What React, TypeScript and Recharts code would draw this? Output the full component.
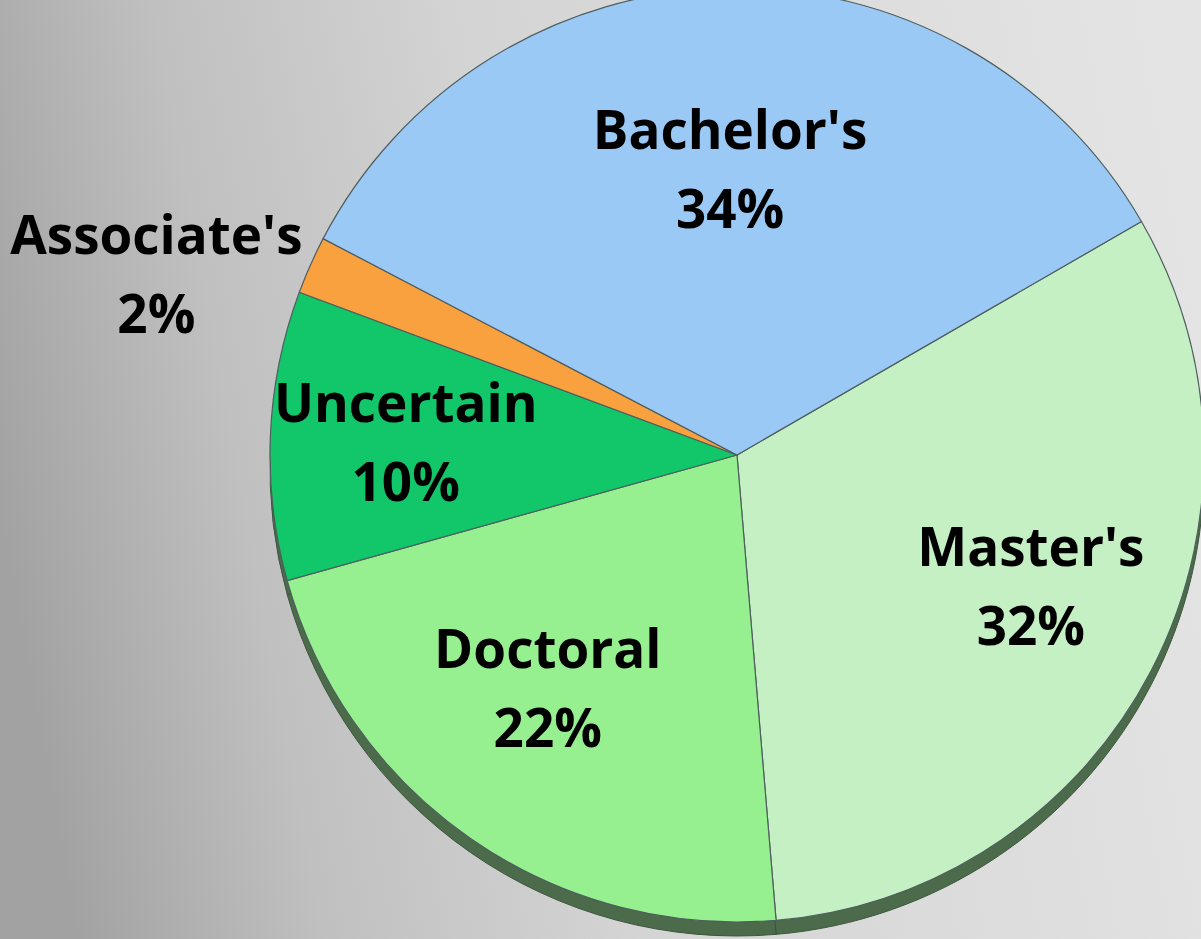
import { Cell, Pie, PieChart } from "recharts";

const degrees = ["Master's", "Doctoral", "Uncertain", "Associate's", "Bachelor's"];
const shares = [32, 22, 10, 2, 34];
const sliceColors = ["#c4f0c3", "#97f08f", "#12c76a", "#f9a03f", "#9bc9f5"];

const data = degrees.map((name, i) => ({ name, value: shares[i] }));

const W = 1201;
const H = 939;
const CX = 737;
const CY = 455;
const R = 467;
const START = 30;
const RAD = Math.PI / 180;

const labelFont = { fontFamily: "'Open Sans', sans-serif", fontWeight: 700, fontSize: 53, fill: "#000" };

function renderLabel(props: any) {
  const { cx, cy, midAngle, outerRadius, name, value } = props;
  const cos = Math.cos(-midAngle * RAD);
  const sin = Math.sin(-midAngle * RAD);
  let x: number;
  let y: number;
  if (value < 5) {
    // small slices get their label outside, to the left of the rim
    x = cx + outerRadius * cos - 154;
    y = cy + outerRadius * sin + 10;
  } else {
    // labels sit on an ellipse inside the slices
    x = cx + outerRadius * 0.71 * cos;
    y = cy + outerRadius * 0.61 * sin;
  }
  return (
    <text x={x} y={y} textAnchor="middle" {...labelFont}>
      <tspan x={x} dy={-21}>{name}</tspan>
      <tspan x={x} dy={79}>{`${value}%`}</tspan>
    </text>
  );
}

export default function App() {
  return (
    <div style={{ width: W, height: H, position: "relative", overflow: "hidden" }}>
      <style>{"body{margin:0}"}</style>
      <PieChart width={W} height={H} margin={{ top: 0, right: 0, bottom: 0, left: 0 }}>
        <defs>
          <linearGradient id="bg" gradientUnits="userSpaceOnUse" x1={0} y1={520} x2={W} y2={300}>
            <stop offset="0%" stopColor="#a2a2a2" />
            <stop offset="20%" stopColor="#c0c0c0" />
            <stop offset="45%" stopColor="#d4d4d4" />
            <stop offset="100%" stopColor="#e4e4e4" />
          </linearGradient>
        </defs>
        <rect x={0} y={0} width={W} height={H} fill="url(#bg)" />
        {/* extruded rim under the pie */}
        <Pie
          data={data}
          dataKey="value"
          nameKey="name"
          cx={CX}
          cy={CY + 14}
          outerRadius={R}
          startAngle={START}
          endAngle={START - 360}
          stroke="#3d553d"
          strokeWidth={1}
          fill="#4b6b4b"
          isAnimationActive={false}
          label={false}
        />
        <Pie
          data={data}
          dataKey="value"
          nameKey="name"
          cx={CX}
          cy={CY}
          outerRadius={R}
          startAngle={START}
          endAngle={START - 360}
          stroke="#4f5f5f"
          strokeWidth={1.2}
          isAnimationActive={false}
          labelLine={false}
          label={renderLabel}
        >
          {data.map((d, i) => (
            <Cell key={d.name} fill={sliceColors[i]} />
          ))}
        </Pie>
      </PieChart>
    </div>
  );
}
